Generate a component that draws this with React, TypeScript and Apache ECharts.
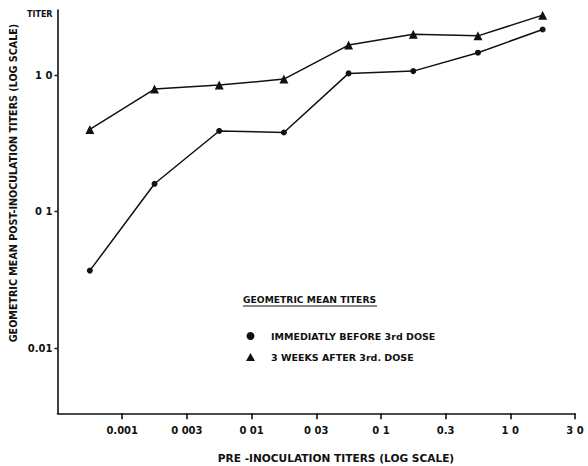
import React, { useEffect, useRef } from "react";
import * as echarts from "echarts";

// Pre-inoculation titer groups (bands between the tick marks)
const groups = [
  "<0.001",
  "0.001-0.003",
  "0.003-0.01",
  "0.01-0.03",
  "0.03-0.1",
  "0.1-0.3",
  "0.3-1.0",
  "1.0-3.0",
];
// Tick labels on the x axis (band boundaries)
const xTickLabels = ["0.001", "0 003", "0 01", "0 03", "0 1", "0.3", "1 0", "3 0"];
const xTickPositions = [1, 2, 3, 4, 5, 6, 7, 8];

// Geometric mean post-inoculation titers
const beforeThird = [0.037, 0.16, 0.39, 0.38, 1.03, 1.07, 1.46, 2.16];
const afterThird = [0.4, 0.79, 0.845, 0.935, 1.66, 1.99, 1.94, 2.75];

const yTickValues = [0.01, 0.1, 1];
const yTickLabels = ["0.01", "0 1", "1 0"];

const seriesNames = ["IMMEDIATLY BEFORE 3rd DOSE", "3 WEEKS AFTER 3rd. DOSE"];

const FONT = "DejaVu Sans";

export default function App() {
  const ref = useRef<HTMLDivElement>(null);

  useEffect(() => {
    if (!ref.current) return;
    const chart = echarts.init(ref.current, undefined, { renderer: "svg" });
    const ink = "#111";
    const option: any = {
      animation: false,
      backgroundColor: "#fff",
      grid: { left: 57.5, right: 13, top: 10, bottom: 52.7, containLabel: false },
      xAxis: [
        {
          type: "category",
          data: groups,
          boundaryGap: true,
          axisLine: { show: true, lineStyle: { color: ink, width: 1.6 } },
          axisTick: { show: false },
          axisLabel: { show: false },
          splitLine: { show: false },
        },
        {
          type: "value",
          min: 0,
          max: 8,
          interval: 1,
          position: "bottom",
          axisLine: { show: false },
          axisTick: {
            show: true,
            customValues: xTickPositions,
            length: 6,
            lineStyle: { color: ink, width: 1.6 },
          },
          axisLabel: {
            show: true,
            customValues: xTickPositions,
            formatter: (v: number) => xTickLabels[Math.round(v) - 1] ?? "",
            color: ink,
            fontFamily: FONT,
            fontWeight: "bold",
            fontSize: 10,
            margin: 12,
          },
          splitLine: { show: false },
        },
      ],
      yAxis: {
        type: "log",
        logBase: 10,
        min: 1 / 300,
        max: 3,
        axisLine: { show: true, lineStyle: { color: ink, width: 1.6 } },
        axisTick: {
          show: true,
          customValues: yTickValues,
          length: 3,
          lineStyle: { color: ink, width: 1.4 },
        },
        axisLabel: {
          show: true,
          customValues: yTickValues,
          formatter: (v: number) => {
            const i = yTickValues.findIndex((t) => Math.abs(Math.log10(t) - Math.log10(v)) < 1e-6);
            return i >= 0 ? yTickLabels[i] : "";
          },
          color: ink,
          fontFamily: FONT,
          fontWeight: "bold",
          fontSize: 10,
          margin: 5,
        },
        splitLine: { show: false },
      },
      legend: {
        orient: "vertical",
        left: 241,
        top: 326,
        itemWidth: 9,
        itemHeight: 8,
        itemGap: 11,
        data: [
          { name: seriesNames[0], icon: "circle" },
          { name: seriesNames[1], icon: "triangle" },
        ],
        textStyle: {
          color: ink,
          fontFamily: FONT,
          fontWeight: "bold",
          fontSize: 9.5,
          padding: [0, 0, 0, 11],
        },
      },
      graphic: [
        {
          type: "text",
          left: 27,
          top: 10,
          style: { text: "TITER", fill: ink, font: `bold 8px "${FONT}"` },
        },
        {
          type: "text",
          x: 13,
          y: 183,
          rotation: Math.PI / 2,
          style: {
            text: "GEOMETRIC MEAN POST-INOCULATION TITERS (LOG SCALE)",
            fill: ink,
            font: `bold 9.6px "${FONT}"`,
            align: "center",
            verticalAlign: "middle",
          },
        },
        {
          type: "text",
          x: 336,
          y: 458,
          style: {
            text: "PRE -INOCULATION TITERS (LOG SCALE)",
            fill: ink,
            font: `bold 10.6px "${FONT}"`,
            align: "center",
            verticalAlign: "middle",
          },
        },
        {
          type: "text",
          x: 243,
          y: 299,
          style: {
            text: "GEOMETRIC MEAN TITERS",
            fill: ink,
            font: `bold 9.2px "${FONT}"`,
            align: "left",
            verticalAlign: "middle",
          },
        },
        {
          type: "line",
          shape: { x1: 243, y1: 306, x2: 377, y2: 306 },
          style: { stroke: ink, lineWidth: 1.2 },
        },
      ],
      series: [
        {
          name: seriesNames[0],
          type: "line",
          xAxisIndex: 0,
          data: beforeThird,
          symbol: "circle",
          symbolSize: 6,
          itemStyle: { color: ink },
          lineStyle: { color: ink, width: 1.5 },
        },
        {
          name: seriesNames[1],
          type: "line",
          xAxisIndex: 0,
          data: afterThird,
          symbol: "triangle",
          symbolSize: 9,
          itemStyle: { color: ink },
          lineStyle: { color: ink, width: 1.5 },
        },
      ],
    };
    chart.setOption(option);
    return () => chart.dispose();
  }, []);

  return (
    <div
      ref={ref}
      style={{ position: "fixed", left: 0, top: 0, width: 588, height: 466, background: "#fff" }}
    />
  );
}
